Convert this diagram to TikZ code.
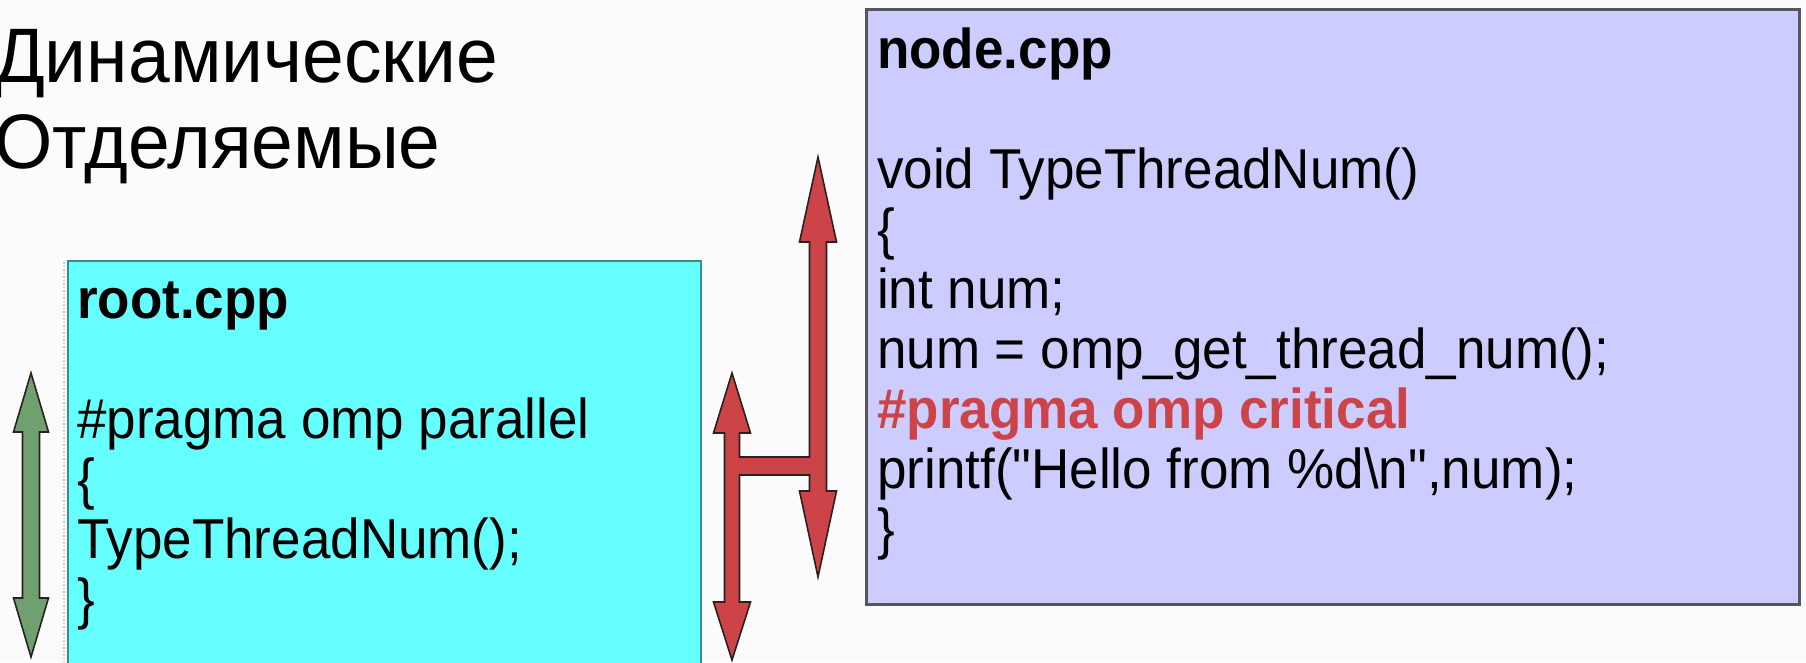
\documentclass[tikz,border=0pt]{standalone}
\usepackage{fontspec}
\setmainfont{Liberation Sans}[Ligatures=TeXOff]
\definecolor{bgc}{HTML}{FBFBFB}
\definecolor{cyanfill}{HTML}{66FFFF}
\definecolor{cyanedge}{HTML}{3C8C8C}
\definecolor{purfill}{HTML}{CCCCFF}
\definecolor{puredge}{HTML}{55555E}
\definecolor{redarrow}{HTML}{CC4448}
\definecolor{redtext}{HTML}{CC4448}
\definecolor{greenarrow}{HTML}{70A070}
\definecolor{arrowedge}{HTML}{2A2020}
\newcommand{\tallcode}[1]{\scalebox{1}[1.06]{#1}}
\tikzset{
  codeline/.style={anchor=base west, inner sep=0pt, font=\fontsize{53}{60}\selectfont},
  boldline/.style={codeline, font=\fontsize{53}{60}\selectfont\bfseries},
  titleline/.style={anchor=base west, inner sep=0pt, font=\fontsize{75}{86}\selectfont},
  redshape/.style={fill=redarrow, draw=arrowedge, line width=1.6pt, line join=miter},
  greenshape/.style={fill=greenarrow, draw=arrowedge, line width=1.6pt, line join=miter},
}
\begin{document}
\begin{tikzpicture}[x=1pt,y=-1pt]
\useasboundingbox (0,0) rectangle (1806,662);
\fill[bgc] (0,0) rectangle (1806,662);

% title
\node[titleline] (t1) at (-6,82) {\scalebox{1}[1.03]{Динамические}};
\node[titleline] (t2) at (-6,168) {\scalebox{1}[1.03]{Отделяемые}};

% root box
\draw[gray!40, dotted, line width=1.5pt] (64,262) -- (64,662);
\node[draw=cyanedge, fill=cyanfill, line width=2pt, minimum width=633pt, minimum height=420pt, anchor=north west, inner sep=0pt] (root) at (67,260) {};
\node[boldline] (r1) at (77,318) {\tallcode{root.cpp}};
\node[codeline] (r2) at (77,438) {\tallcode{\#pragma omp parallel}};
\node[codeline] (r3) at (77,498) {\tallcode{\{}};
\node[codeline] (r4) at (77,558) {\tallcode{TypeThreadNum();}};
\node[codeline] (r5) at (77,618) {\tallcode{\}}};

% node box
\node[draw=puredge, fill=purfill, line width=3pt, minimum width=933pt, minimum height=595pt, anchor=north west, inner sep=0pt] (nodebox) at (865,8) {};
\node[boldline] (n1) at (877,68) {\tallcode{node.cpp}};
\node[codeline] (n2) at (877,188) {\tallcode{void TypeThreadNum()}};
\node[codeline] (n3) at (877,248) {\tallcode{\{}};
\node[codeline] (n4) at (877,308) {\tallcode{int num;}};
\node[codeline] (n5) at (877,368) {\tallcode{num = omp\_get\_thread\_num();}};
\node[boldline, text=redtext] (n6) at (877,428) {\tallcode{\#pragma omp critical}};
\node[codeline] (n7) at (877,488) {\tallcode{printf("Hello from \%d\textbackslash n",num);}};
\node[codeline] (n8) at (877,548) {\tallcode{\}}};

% green double arrow
\draw[greenshape] (31,373) -- (48.5,432) -- (39.5,432) -- (39.5,598) -- (48.5,598) -- (31,657)
  -- (13.5,598) -- (22.5,598) -- (22.5,432) -- (13.5,432) -- cycle;

% red H-shaped double arrows
\draw[redshape] (732,373) -- (750.5,433) -- (739.5,433) -- (739.5,457) -- (809.5,457)
  -- (809.5,242) -- (799.5,242) -- (818,157) -- (836.5,242) -- (826.5,242)
  -- (826.5,491) -- (836.5,491) -- (818,577) -- (799.5,491) -- (809.5,491)
  -- (809.5,475) -- (739.5,475) -- (739.5,602) -- (750.5,602) -- (732,660)
  -- (713.5,602) -- (724.5,602) -- (724.5,433) -- (713.5,433) -- cycle;
\end{tikzpicture}
\end{document}
